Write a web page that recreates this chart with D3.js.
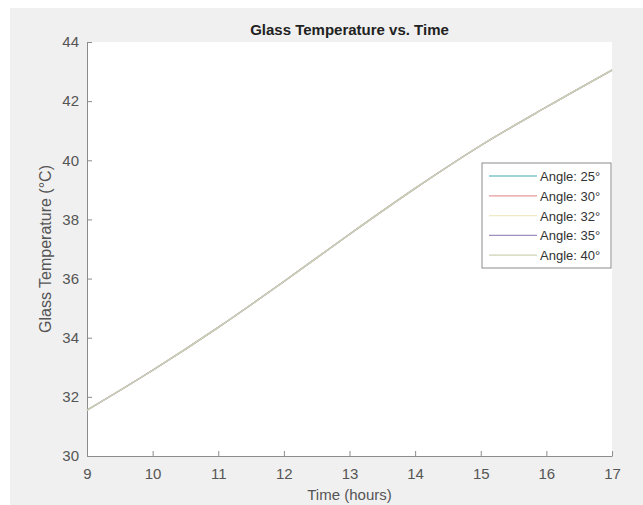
<!DOCTYPE html>
<html>
<head>
    <title>Glass Temperature vs. Time</title>
    <script src="https://cdnjs.cloudflare.com/ajax/libs/d3/7.8.5/d3.min.js"></script>
    <style>
    body{ margin:0; background:#fff; }
    svg{ display:block; font-family: "Liberation Sans", Arial, sans-serif; }
    </style>
</head>
<body>
    <svg width="643" height="505"></svg>
    <script>
        // hours of the day and glass temperature
        var hours = [9, 10, 11, 12, 13, 14, 15, 16, 17];
        var glassTemp = [31.55, 32.9, 34.35, 35.9, 37.5, 39.05, 40.5, 41.8, 43.05];
        var angles = [25, 30, 32, 35, 40];
        var angleColors = ["#7cc4cc", "#e59a9a", "#efe9c6", "#9f8fbd", "#cdd3b3"];
        var xTicks = [9, 10, 11, 12, 13, 14, 15, 16, 17];
        var yTicks = [30, 32, 34, 36, 38, 40, 42, 44];

        var svg = d3.select("svg");
        var W = +svg.attr("width"), H = +svg.attr("height");
        var pl = 87, pr = 612, pt = 42, pb = 456;

        // figure background
        svg.append("rect").attr("x", 10).attr("y", 8)
            .attr("width", W - 10).attr("height", H - 8).attr("fill", "#f0f0f0");
        svg.append("rect").attr("x", pl).attr("y", pt)
            .attr("width", pr - pl).attr("height", pb - pt).attr("fill", "#fff");

        var x = d3.scaleLinear().domain([9, 17]).range([pl, pr]);
        var y = d3.scaleLinear().domain([30, 44]).range([pb, pt]);

        var xAxis = svg.append("g").attr("transform", "translate(0," + pb + ")")
            .call(d3.axisBottom(x).tickValues(xTicks).tickSizeInner(-5).tickSizeOuter(0).tickPadding(12));
        var yAxis = svg.append("g").attr("transform", "translate(" + pl + ",0)")
            .call(d3.axisLeft(y).tickValues(yTicks).tickSizeInner(-5).tickSizeOuter(0).tickPadding(8));
        [xAxis, yAxis].forEach(function(a){
            a.select(".domain").attr("stroke", "#8c8c8c");
            a.selectAll(".tick line").attr("stroke", "#8c8c8c");
            a.selectAll(".tick text").attr("fill", "#555").style("font-size", "15px");
        });

        var line = d3.line()
            .x(function(d, i){ return x(hours[i]); })
            .y(function(d){ return y(d); })
            .curve(d3.curveMonotoneX);

        angles.forEach(function(a, i){
            svg.append("path")
                .datum(glassTemp)
                .attr("fill", "none")
                .attr("stroke", angleColors[i])
                .attr("stroke-width", 1.3)
                .attr("d", line);
        });

        svg.append("text").attr("x", (pl + pr) / 2).attr("y", 35)
            .attr("text-anchor", "middle").attr("font-weight", "bold")
            .attr("fill", "#222").style("font-size", "15px")
            .text("Glass Temperature vs. Time");
        svg.append("text").attr("x", (pl + pr) / 2).attr("y", 500)
            .attr("text-anchor", "middle").attr("fill", "#555").style("font-size", "15px")
            .text("Time (hours)");
        svg.append("text")
            .attr("transform", "translate(51," + (pt + pb) / 2 + ") rotate(-90)")
            .attr("text-anchor", "middle").attr("fill", "#555").style("font-size", "16px")
            .text("Glass Temperature (°C)");

        // legend
        var lg = svg.append("g").attr("transform", "translate(482,163)");
        lg.append("rect").attr("width", 129).attr("height", 105)
            .attr("fill", "#fff").attr("stroke", "#8c8c8c");
        var rows = lg.selectAll("g.row").data(angles).enter().append("g")
            .attr("class", "row")
            .attr("transform", function(d, i){ return "translate(0," + (13 + i * 19.8) + ")"; });
        rows.append("line").attr("x1", 7).attr("x2", 55)
            .attr("stroke", function(d, i){ return angleColors[i]; }).attr("stroke-width", 1.3);
        rows.append("text").attr("x", 58).attr("y", 5).attr("fill", "#333")
            .style("font-size", "13px")
            .text(function(d){ return "Angle: " + d + "°"; });
    </script>
</body>
</html>
